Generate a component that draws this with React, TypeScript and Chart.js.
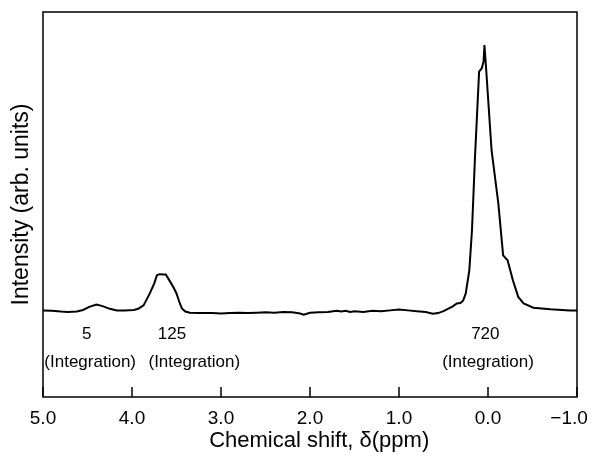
import React, { useEffect, useRef } from "react";
import { Chart, registerables } from "chart.js";

Chart.register(...registerables);

// Chemical shift (ppm) and intensity (arb. units)
const shiftPpm = [
  5.0, 4.9, 4.8, 4.72, 4.62, 4.55, 4.48, 4.4, 4.33, 4.25, 4.17, 4.08, 3.98, 3.93,
  3.87, 3.8, 3.75, 3.72, 3.69, 3.65, 3.62, 3.57, 3.53, 3.5, 3.47, 3.44, 3.4, 3.35,
  3.25, 3.1, 3.0, 2.9, 2.8, 2.7, 2.6, 2.5, 2.4, 2.3, 2.2, 2.11, 2.07, 2.0, 1.9,
  1.8, 1.7, 1.65, 1.6, 1.55, 1.5, 1.4, 1.3, 1.2, 1.1, 1.0, 0.9, 0.8, 0.7, 0.62,
  0.56, 0.5, 0.45, 0.4, 0.35, 0.31, 0.28, 0.25, 0.21, 0.18, 0.146, 0.1, 0.07,
  0.05, 0.04, 0.02, -0.04, -0.116, -0.17, -0.22, -0.28, -0.34, -0.4, -0.51, -0.7,
  -0.92, -1.0,
];
const intensity = [
  22.5, 22.4, 22.2, 22.1, 22.2, 22.6, 23.4, 24.0, 23.6, 22.9, 22.5, 22.5, 22.6, 22.9,
  23.8, 26.9, 29.5, 31.6, 31.9, 31.8, 31.8, 29.9, 28.3, 26.9, 24.8, 23.0, 22.2, 21.9,
  21.8, 21.8, 21.7, 21.8, 21.9, 21.8, 21.9, 22.0, 21.9, 22.1, 22.0, 21.7, 21.4, 21.9, 22.0,
  22.1, 22.4, 22.2, 22.4, 22.1, 22.3, 22.1, 22.4, 22.3, 22.5, 22.7, 22.5, 22.3, 22.1, 21.6,
  21.8, 22.3, 22.9, 23.5, 24.3, 24.4, 25.0, 26.9, 32.9, 43.3, 62.4, 84.5, 85.4,
  87.1, 91.4, 84.9, 64.1, 50.3, 36.8, 35.5, 30.3, 26.0, 24.3, 23.2, 22.8,
  22.5, 22.5,
];

// Tick labels on the shift axis
const tickLabels: Record<string, string> = {
  "5": "5.0",
  "4": "4.0",
  "3": "3.0",
  "2": "2.0",
  "1": "1.0",
  "0": "0.0",
  "-1": "\u22121.0   ",
};

// Integration annotations
const integrationValues = ["5", "125", "720"];
const integrationValuePpm = [4.51, 3.55, 0.03];
const integrationNotePpm = [4.47, 3.3, 0.0];
const integrationValueLevel = 16.3;
const integrationNoteLevel = 9.1;
const integrationNote = "(Integration)";

const FONT = "'Liberation Sans', Arial, Helvetica, sans-serif";

const framePlugin = {
  id: "framePlugin",
  afterDatasetsDraw(chart: any) {
    const { ctx, chartArea, scales } = chart;
    const x = scales.x;
    const y = scales.y;
    ctx.save();
    ctx.strokeStyle = "#000";
    ctx.lineWidth = 1.5;
    ctx.strokeRect(chartArea.left, chartArea.top, chartArea.right - chartArea.left, chartArea.bottom - chartArea.top);
    // inward tick marks
    x.ticks.forEach((t: any) => {
      const px = x.getPixelForValue(t.value);
      ctx.beginPath();
      ctx.moveTo(px, chartArea.bottom);
      ctx.lineTo(px, chartArea.bottom - 10);
      ctx.stroke();
    });
    // annotations
    ctx.fillStyle = "#000";
    ctx.font = `17px ${FONT}`;
    ctx.textAlign = "center";
    ctx.textBaseline = "middle";
    integrationValues.forEach((v, i) => {
      ctx.fillText(v, x.getPixelForValue(integrationValuePpm[i]), y.getPixelForValue(integrationValueLevel));
      ctx.fillText(integrationNote, x.getPixelForValue(integrationNotePpm[i]), y.getPixelForValue(integrationNoteLevel));
    });
    ctx.restore();
  },
};

export default function App() {
  const ref = useRef<HTMLCanvasElement | null>(null);
  useEffect(() => {
    document.body.style.margin = "0";
    const canvas = ref.current;
    if (!canvas) return;
    const chart = new Chart(canvas, {
      type: "line",
      data: {
        datasets: [
          {
            data: shiftPpm.map((s, i) => ({ x: s, y: intensity[i] })),
            borderColor: "#000",
            borderWidth: 2,
            pointRadius: 0,
            tension: 0,
            fill: false,
          },
        ],
      },
      options: {
        responsive: false,
        animation: false,
        layout: { padding: { top: 12, right: 17, left: 0, bottom: 0 } },
        plugins: { legend: { display: false }, tooltip: { enabled: false } },
        scales: {
          x: {
            type: "linear",
            reverse: true,
            min: -1,
            max: 5,
            grid: { display: false, drawTicks: false },
            border: { display: false },
            ticks: {
              stepSize: 1,
              padding: 10,
              color: "#000",
              font: { family: FONT, size: 19 },
              maxRotation: 0,
              callback: (v: any) => tickLabels[String(Math.round(Number(v)))] ?? String(v),
            },
            title: {
              display: true,
              text: "   Chemical shift, \u03b4(ppm)",
              color: "#000",
              font: { family: FONT, size: 22 },
              padding: { top: 0, bottom: 2 },
            },
            afterFit: (s: any) => {
              s.height = 59;
              s.paddingLeft = 0;
              s.paddingRight = 0;
            },
          },
          y: {
            min: 0,
            max: 100,
            grid: { display: false, drawTicks: false },
            border: { display: false },
            ticks: { display: false },
            title: {
              display: true,
              text: "Intensity (arb. units)",
              color: "#000",
              font: { family: FONT, size: 23 },
              padding: { top: 8, bottom: 0 },
            },
            afterFit: (s: any) => {
              s.width = 43;
              s.paddingTop = 0;
              s.paddingBottom = 0;
            },
          },
        },
      },
      plugins: [framePlugin],
    } as any);
    return () => chart.destroy();
  }, []);
  return <canvas ref={ref} width={594} height={456} style={{ display: "block" }} />;
}
